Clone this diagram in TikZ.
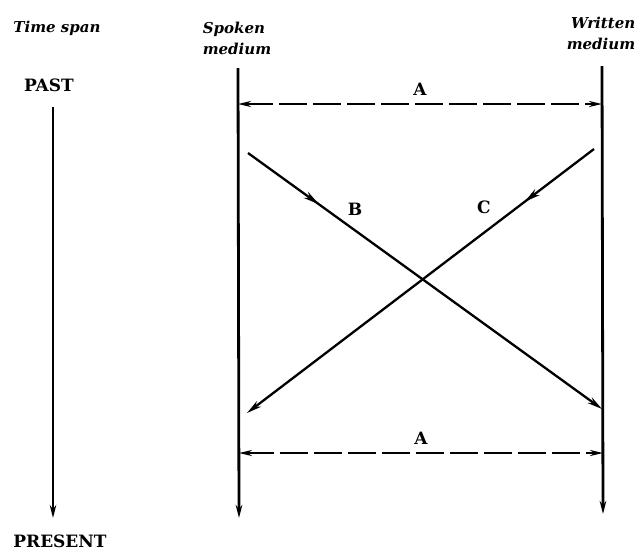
\documentclass[tikz,border=0pt]{standalone}
\usepackage{fontspec}
\setmainfont{DejaVu Serif}
\usetikzlibrary{arrows.meta,decorations.markings}
\begin{document}
\begin{tikzpicture}[x=1pt,y=-1pt,
  lbl/.style={font=\bfseries\fontsize{17}{20}\selectfont, inner sep=0pt},
  ital/.style={font=\bfseries\itshape\fontsize{15}{21}\selectfont, inner sep=0pt},
  axisline/.style={line width=2.8pt, -{Stealth[length=13pt,width=6.5pt]}},
  spanline/.style={line width=2.6pt, dash pattern=on 28pt off 6pt, {Stealth[length=13pt,width=6pt]}-{Stealth[length=13pt,width=6pt]}},
  crossline/.style={line width=2.3pt, -{Stealth[length=15pt,width=7pt]},
    decoration={markings, mark=at position 0.2 with {\arrow{Stealth[length=16pt,width=7.5pt]}}},
    postaction={decorate}}
]
\useasboundingbox (0,0) rectangle (636,550);

% headings
\node[ital] (ts) at (57,28) {Time span};
\node[ital, align=left] (sp) at (237,38) {Spoken\\medium};
\node[ital, align=right] (wr) at (601,33) {Written\\medium};
\node[lbl] (past) at (49,85) {PAST};
\node[lbl] (present) at (60,541) {PRESENT};

% time line
\coordinate (t0) at (53,107);
\coordinate (t1) at (53,518);
\draw[axisline] (t0) -- (t1);

% medium lines
\coordinate (s0) at (238,68);
\coordinate (s1) at (239,518);
\coordinate (w0) at (602,66);
\coordinate (w1) at (603,514);
\draw[axisline] (s0) -- (s1);
\draw[axisline] (w0) -- (w1);

% A spans
\coordinate (a1l) at (238,104);
\coordinate (a1r) at (602,104);
\coordinate (a2l) at (239,453);
\coordinate (a2r) at (603,453);
\draw[spanline] (a1l) -- node[lbl, above=7pt] (la1) {A} (a1r);
\draw[spanline] (a2l) -- node[lbl, above=7pt] (la2) {A} (a2r);

% B and C
\coordinate (b0) at (248,153);
\coordinate (b1) at (602,409);
\coordinate (c0) at (594,149);
\coordinate (c1) at (247,413);
\draw[crossline] (b0) -- (b1);
\draw[crossline] (c0) -- (c1);
\node[lbl] (lb) at (355,209) {B};
\node[lbl] (lc) at (484,207) {C};
\end{tikzpicture}
\end{document}
